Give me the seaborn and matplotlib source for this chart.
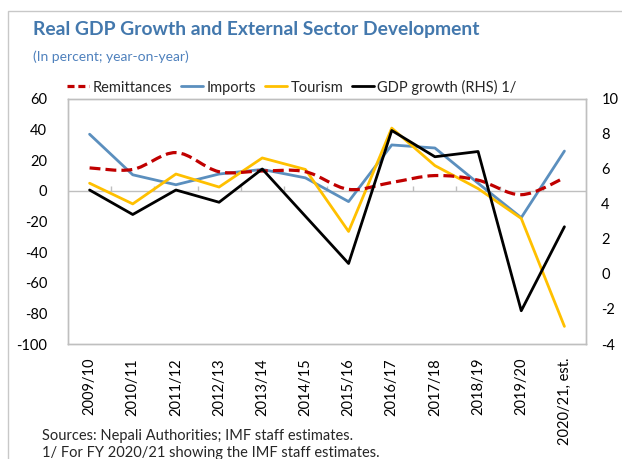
import numpy as np
import pandas as pd
import matplotlib
matplotlib.use("Agg")
import matplotlib.pyplot as plt
from matplotlib.path import Path
from matplotlib.patches import PathPatch, Rectangle
from matplotlib.lines import Line2D
import seaborn as sns

# Fiscal years
years = ["2009/10", "2010/11", "2011/12", "2012/13", "2013/14", "2014/15",
         "2015/16", "2016/17", "2017/18", "2018/19", "2019/20", "2020/21, est."]

# Year-on-year growth, percent (left axis)
remittances = [15, 14, 25, 12.5, 13, 12.5, 1, 5.5, 10, 7, -2.5, 8.5]
imports = [37, 10.5, 4, 11, 14, 8.5, -7, 30, 28, 5, -17.5, 26]
tourism = [5, -8.5, 11, 2.5, 21.5, 14, -26.5, 41, 16.5, 1.5, -18, -88.5]

# Real GDP growth, percent (right axis)
gdp_growth = [4.8, 3.4, 4.8, 4.1, 6.0, 3.3, 0.6, 8.2, 6.7, 7.0, -2.1, 2.7]

left_ticks = [60, 40, 20, 0, -20, -40, -60, -80, -100]
right_ticks = [10, 8, 6, 4, 2, 0, -2, -4]

C_REM = "#c00000"
C_IMP = "#5b8fbe"
C_TOU = "#ffc000"
C_GDP = "#000000"
C_GRID = "#bfbfbf"
C_TITLE = "#4378ad"

sns.set_style("white")
plt.rcParams["font.family"] = ["Lato", "DejaVu Sans"]
plt.rcParams["font.size"] = 10.5

df = pd.DataFrame({"year": years, "Remittances": remittances,
                   "Imports": imports, "Tourism": tourism,
                   "GDP": gdp_growth})
df["pos"] = np.arange(len(years))

fig = plt.figure(figsize=(6.22, 4.59), dpi=100)
ax = fig.add_axes([68 / 622, 1 - 344 / 459, (586 - 68) / 622, (344 - 99) / 459])
ax2 = ax.twinx()

LW = 2.0

# Axis line at zero with small category dividers
ax.axhline(0, color=C_GRID, lw=1, zorder=1)
ax.vlines(np.arange(0.5, len(years) - 1), 0, 3, color=C_GRID, lw=1, zorder=1)

sns.lineplot(data=df, x="pos", y="Imports", ax=ax, color=C_IMP, lw=LW,
             zorder=3, legend=False)
sns.lineplot(data=df, x="pos", y="Tourism", ax=ax, color=C_TOU, lw=LW,
             zorder=4, legend=False)

# Remittances drawn as a smoothed (Catmull-Rom style) dashed curve
xs = df["pos"].to_numpy(dtype=float)
ys = np.asarray(remittances, dtype=float)
verts = [(xs[0], ys[0])]
codes = [Path.MOVETO]
n = len(xs)
for i in range(n - 1):
    p0 = np.array([xs[max(i - 1, 0)], ys[max(i - 1, 0)]])
    p1 = np.array([xs[i], ys[i]])
    p2 = np.array([xs[i + 1], ys[i + 1]])
    p3 = np.array([xs[min(i + 2, n - 1)], ys[min(i + 2, n - 1)]])
    c1 = p1 + (p2 - p0) / 6.0
    c2 = p2 - (p3 - p1) / 6.0
    verts += [tuple(c1), tuple(c2), tuple(p2)]
    codes += [Path.CURVE4] * 3
rem_patch = PathPatch(Path(verts, codes), fill=False, edgecolor=C_REM,
                      lw=LW + 0.3, linestyle=(0, (3.4, 1.6)), zorder=5,
                      capstyle="butt")
ax.add_patch(rem_patch)

sns.lineplot(data=df, x="pos", y="GDP", ax=ax2, color=C_GDP, lw=LW,
             zorder=6, legend=False)

ax.set_xlim(-0.5, len(years) - 0.5)
ax.set_ylim(-100, 60)
ax2.set_ylim(-4, 10)
ax.set_yticks(left_ticks)
ax2.set_yticks(right_ticks)
ax.set_yticklabels([str(t) for t in left_ticks])
ax2.set_yticklabels([str(t) for t in right_ticks])
ax.set_xticks(df["pos"])
ax.set_xticklabels(years, rotation=90, va="top", ha="center")
ax.set_xlabel("")
ax.set_ylabel("")
ax2.set_ylabel("")
ax.tick_params(axis="x", length=0, pad=10, labelsize=10.5, colors="black")
ax.tick_params(axis="y", length=0, pad=15, labelsize=10.5, colors="black")
ax2.tick_params(axis="y", length=0, pad=11, labelsize=10.5, colors="black")

for a in (ax, ax2):
    for s in a.spines.values():
        s.set_color(C_GRID)
        s.set_linewidth(1)

handles = [
    Line2D([], [], color=C_REM, lw=LW + 0.3, linestyle=(0, (2.2, 1.2))),
    Line2D([], [], color=C_IMP, lw=LW),
    Line2D([], [], color=C_TOU, lw=LW),
    Line2D([], [], color=C_GDP, lw=LW),
]
labels = ["Remittances", "Imports", "Tourism", "GDP growth (RHS) 1/"]
fig.legend(handles, labels, loc="center left", bbox_to_anchor=(67 / 622, 1 - 87 / 459),
           ncol=4, frameon=False, fontsize=10.5, handlelength=1.5,
           handletextpad=0.25, columnspacing=0.6, borderaxespad=0, borderpad=0)

fig.text(33 / 622, 1 - 30 / 459, "Real GDP Growth and External Sector Development",
         fontsize=13.9, fontweight="bold", color=C_TITLE, va="center", ha="left")
fig.text(33 / 622, 1 - 57 / 459, "(In percent; year-on-year)",
         fontsize=10, color="#4f81bd", va="center", ha="left")
fig.text(42 / 622, 1 - 436 / 459, "Sources: Nepali Authorities; IMF staff estimates.",
         fontsize=10.5, va="center", ha="left")
fig.text(42 / 622, 1 - 453 / 459, "1/ For FY 2020/21 showing the IMF staff estimates.",
         fontsize=10.5, va="center", ha="left")

# Outer frame of the panel
fig.patches.append(Rectangle((8 / 622, -0.2), 1.2, 1.2 - 11 / 459,
                             transform=fig.transFigure, fill=False,
                             edgecolor="#c8c8c8", lw=1))

fig.savefig("out.png", dpi=100)
